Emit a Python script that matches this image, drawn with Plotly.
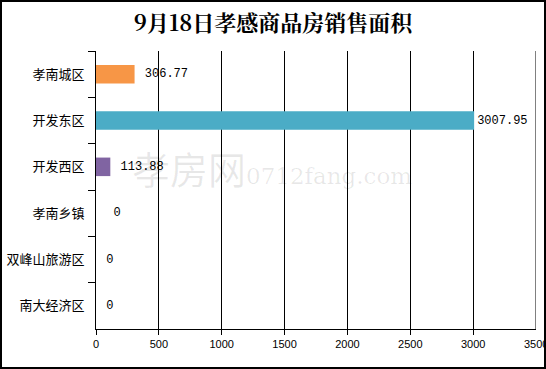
import plotly.graph_objects as go

categories = ["孝南城区", "开发东区", "开发西区", "孝南乡镇", "双峰山旅游区", "南大经济区"]
values = [306.77, 3007.95, 113.88, 0, 0, 0]
labels = ["306.77", "3007.95", "113.88", "0", "0", "0"]
colors = ["#F79646", "#4BACC6", "#8064A2", "#4F81BD", "#4F81BD", "#4F81BD"]
x_ticks = [0, 500, 1000, 1500, 2000, 2500, 3000, 3500]
title_text = "9月18日孝感商品房销售面积"
watermark_cn = "孝房网"
watermark_en = "0712fang.com"

W, H = 546, 369
ml, mr, mt, mb = 96, 10, 51, 40
pw, ph = W - ml - mr, H - mt - mb

fig = go.Figure()

fig.add_annotation(
    text=(f"<span style='font-size:38px'>{watermark_cn}</span>"
          f"<span style='font-size:23px;font-family:DejaVu Serif'>{watermark_en}</span>"),
    xref="paper", yref="paper",
    x=(272 - ml) / pw, y=1 - (167 - mt) / ph,
    showarrow=False,
    font=dict(family="Noto Sans CJK SC, DejaVu Serif", size=30, color="rgba(0,0,0,0.09)"),
)

fig.add_trace(go.Bar(
    y=categories, x=values, orientation="h",
    marker=dict(color=colors, line=dict(width=0)),
    width=0.4,
    text=labels,
    texttemplate=[" %{text}", "%{text}", " %{text}", "  %{text}", " %{text}", " %{text}"],
    textposition="outside", cliponaxis=False,
    textfont=dict(family="Liberation Mono, DejaVu Sans Mono, monospace", size=12, color="#000"),
    hoverinfo="skip",
))

# right boundary gridline at the last tick
fig.add_shape(type="line", xref="x", yref="paper", x0=x_ticks[-1], x1=x_ticks[-1], y0=0, y1=1,
              line=dict(color="#000", width=1), layer="below")
# last tick label (clipped at chart edge in the reference)
fig.add_annotation(text=str(x_ticks[-1]), xref="x", yref="paper", x=x_ticks[-1], y=0,
                   yanchor="top", yshift=-7, showarrow=False, xanchor="center",
                   font=dict(family="Liberation Sans, Arial", size=11, color="#000"))

# outer border of the chart
fig.add_shape(
    type="rect", xref="paper", yref="paper",
    x0=(1 - ml) / pw, x1=(W - 1 - ml) / pw,
    y0=1 - (H - 1 - mt) / ph, y1=1 - (1 - mt) / ph,
    line=dict(color="#000", width=2), fillcolor="rgba(0,0,0,0)", layer="above",
)

fig.update_layout(
    width=W, height=H,
    margin=dict(l=ml, r=mr, t=mt, b=mb, autoexpand=False),
    paper_bgcolor="white", plot_bgcolor="white",
    showlegend=False,
    title=dict(text="<b>" + title_text + "</b>", x=0.5, xanchor="center", y=1 - 23 / H, yanchor="middle",
               font=dict(family="Noto Serif CJK SC, Noto Sans CJK SC, serif", size=22, color="#000")),
    xaxis=dict(
        range=[0, 3500], tickvals=x_ticks[:-1], ticktext=[str(v) for v in x_ticks[:-1]],
        showgrid=True, gridcolor="#000", gridwidth=1,
        showline=True, linecolor="#000", linewidth=1,
        ticks="outside", ticklen=5, tickcolor="#000",
        tickfont=dict(family="Liberation Sans, Arial", size=11, color="#000"),
        zeroline=False, fixedrange=True, automargin=False,
    ),
    yaxis=dict(
        autorange="reversed", categoryorder="array", categoryarray=categories,
        showline=True, linecolor="#000", linewidth=1,
        ticks="outside", ticklen=7, tickcolor="#000", tickson="boundaries",
        tickfont=dict(family="Noto Sans CJK SC, sans-serif", size=13, color="#000"),
        ticklabelstandoff=8,
        showgrid=False, zeroline=False, fixedrange=True, automargin=False,
    ),
)

fig.write_html("out.html")
